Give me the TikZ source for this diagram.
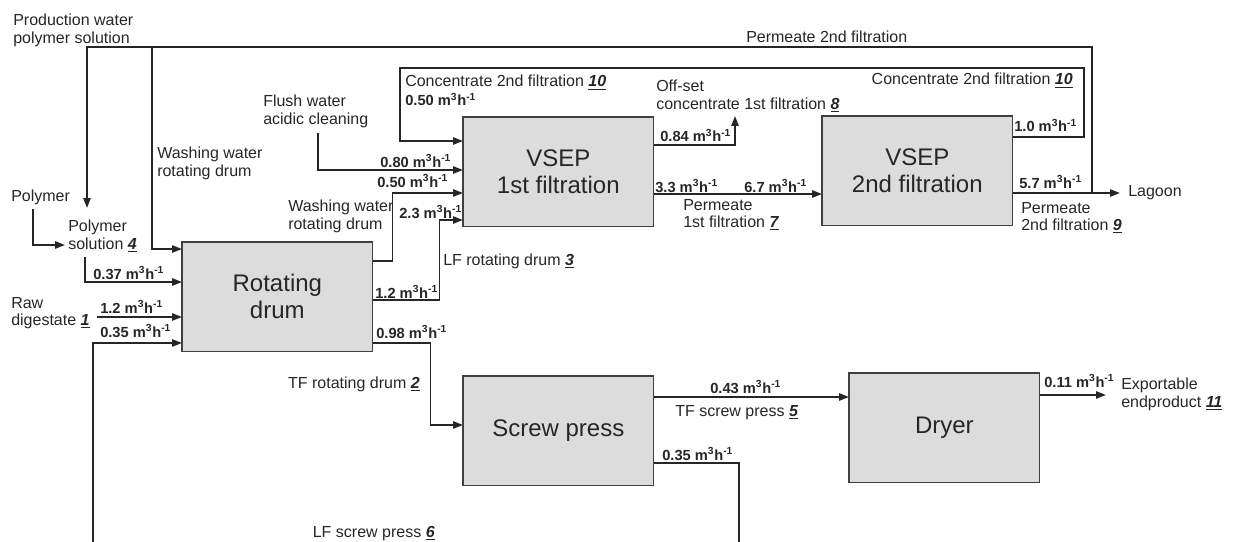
\documentclass[tikz,border=0pt]{standalone}
\usepackage{fontspec}
\setmainfont{Liberation Sans}
\usetikzlibrary{positioning,calc,arrows.meta}
\definecolor{Ink}{HTML}{262626}
\definecolor{Rim}{HTML}{404040}
\definecolor{Shade}{HTML}{DCDCDC}
\newcommand{\flowrate}[1]{\textbf{#1 m\textsuperscript{3}h\textsuperscript{-1}}}
\newcommand{\streamno}[1]{\underline{\textbf{\textit{#1}}}}

\begin{document}
\begin{tikzpicture}[x=0.75pt,y=-0.75pt,
    unit/.style={draw=Rim,line width=1.2pt,fill=Shade,minimum width=143pt,minimum height=82pt,
      align=center,font=\fontsize{18}{20}\selectfont,text=Ink,anchor=north west,outer sep=0pt},
    txt/.style={inner sep=0pt,align=left,font=\fontsize{12}{13}\selectfont,text=Ink},
    qty/.style={inner sep=0pt,anchor=base west,font=\fontsize{11}{12}\selectfont,text=Ink},
    pipe/.style={draw=Ink,line width=1.2pt},
    flow/.style={pipe,-{Triangle[length=7.5pt,width=5.5pt]}}]
    \useasboundingbox (0,0) rectangle (1236,542);
    % process units
    \foreach \name/\x/\y/\label in {drum/182/242/Rotating\\drum,vsep1/463/117/VSEP\\1st filtration,
      vsep2/822/116/VSEP\\2nd filtration,screw/463/376/Screw press,dryer/849/373/Dryer}{
      \node[unit] (\name) at (\x,\y) {\label};
    }
    % stream labels
    \node[txt,anchor=north west] (prod) at (13,14) {Production water\\polymer solution};
    \node[txt,anchor=base west] (perm2top) at (746,43) {Permeate 2nd filtration};
    \node[txt,anchor=north west] (flush) at (263,95) {Flush water\\acidic cleaning};
    \node[txt,anchor=north west] (wash1) at (157,147) {Washing water\\rotating drum};
    \node[txt,anchor=base west] (poly) at (11,201) {Polymer};
    \node[txt,anchor=north west] (polysol) at (68,220) {Polymer\\solution \streamno{4}};
    \node[txt,anchor=north west] (raw) at (11,297) {Raw\\digestate \streamno{1}};
    \node[txt,anchor=north west] (wash2) at (288,200) {Washing water\\rotating drum};
    \node[txt,anchor=base west] (lfdrum) at (443,265) {LF rotating drum \streamno{3}};
    \node[txt,anchor=north west] (perm1) at (683,199) {Permeate\\1st filtration \streamno{7}};
    \node[txt,anchor=north west] (perm2) at (1021,202) {Permeate\\2nd filtration \streamno{9}};
    \node[txt,anchor=base west] (lagoon) at (1128,196) {Lagoon};
    \node[txt,anchor=north west] (offset) at (656,80) {Off-set\\concentrate 1st filtration \streamno{8}};
    \node[txt,anchor=base west] (conc1) at (405,87) {Concentrate 2nd filtration \streamno{10}};
    \node[txt,anchor=base east] (conc2) at (1073,85) {Concentrate 2nd filtration \streamno{10}};
    \node[txt,anchor=base east] (tfdrum) at (420,388) {TF rotating drum \streamno{2}};
    \node[txt,anchor=base east] (lfscrew) at (435,537) {LF screw press \streamno{6}};
    \node[txt,anchor=base west] (tfscrew) at (675,416) {TF screw press \streamno{5}};
    \node[txt,anchor=north west] (export) at (1121,378) {Exportable\\endproduct \streamno{11}};
    % flow rates
    \foreach \name/\x/\y/\val in {qpoly/93/279/0.37,qraw/100/313/1.2,qret/100/337/0.35,
      qflush/380/167/0.80,qwash/377/187/0.50,qlf/399/218/2.3,qlfd/375/298/1.2,qtf/376/338/0.98,
      qoff/660/142/0.84,qpa/655/192/3.3,qpb/744/192/6.7,qca/405/106/0.50,qcb/1014/132/1.0,
      qpc/1019/188/5.7,qtfs/710/393/0.43,qlfs/662/460/0.35,qexp/1044/387/0.11}{
      \node[qty] (\name) at (\x,\y) {\flowrate{\val}};
    }
    % free ends
    \coordinate (ret) at (1092,193);
    \coordinate (topl) at (87,47);
    \coordinate (feed) at (87,208);
    \coordinate (split) at (152,47);
    \coordinate (polyout) at (33,209);
    \coordinate (polyin) at (65,245);
    \coordinate (solout) at (85,257);
    \coordinate (rawout) at (97,317);
    \coordinate (flushout) at (318,133);
    \coordinate (offend) at (735,116);
    \coordinate (lagin) at (1120,193);
    \coordinate (expin) at (1106,395);
    \coordinate (loopr) at (1084,68);
    \coordinate (loopl) at (400,68);
    \coordinate (cuta) at (739,542);
    \coordinate (cutb) at (93,542);
    % connectors
    \draw[flow] ($(vsep2.north east)+(0,77)$) -- (lagin);
    \draw[flow] (ret) |- (topl) -- (feed);
    \draw[flow] (split) |- ($(drum.north west)+(0,7)$);
    \draw[flow] (polyout) |- (polyin);
    \draw[flow] (solout) |- ($(drum.north west)+(0,40)$);
    \draw[flow] (rawout) -- ($(drum.north west)+(0,75)$);
    \draw[flow] (cutb) |- ($(drum.north west)+(0,101)$);
    \draw[flow] (flushout) |- ($(vsep1.north west)+(0,53)$);
    \draw[flow] ($(drum.north east)+(0,19)$) -- ++(20,0) |- ($(vsep1.north west)+(0,76)$);
    \draw[flow] ($(drum.north east)+(0,58)$) -- ++(67,0) |- ($(vsep1.north west)+(0,103)$);
    \draw[flow] ($(drum.north east)+(0,101)$) -- ++(58,0) |- ($(screw.north west)+(0,49)$);
    \draw[flow] ($(vsep2.north east)+(0,21)$) -| (loopr) -- (loopl) |- ($(vsep1.north west)+(0,24)$);
    \draw[flow] ($(vsep1.north east)+(0,28)$) -| (offend);
    \draw[flow] ($(vsep1.north east)+(0,77)$) -- ($(vsep2.north west)+(0,78)$);
    \draw[flow] ($(screw.north east)+(0,21)$) -- ($(dryer.north west)+(0,24)$);
    \draw[pipe] ($(screw.north east)+(0,87)$) -| (cuta);
    \draw[flow] ($(dryer.north east)+(0,22)$) -- (expin);
  \end{tikzpicture}
\end{document}
